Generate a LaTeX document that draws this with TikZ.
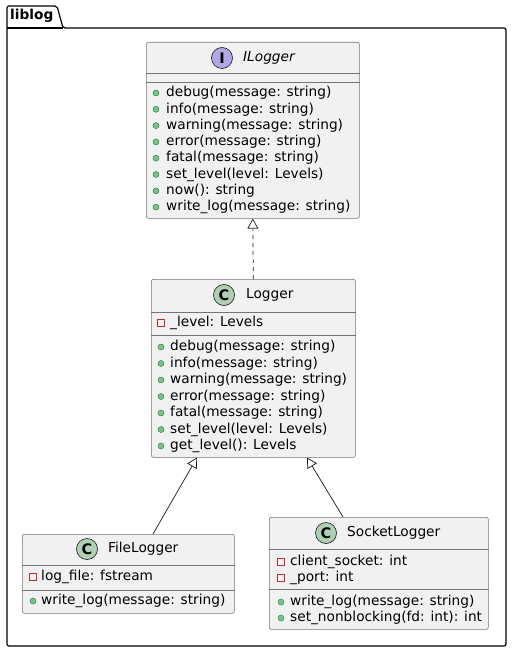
\documentclass[tikz,border=0pt]{standalone}
\usepackage{fontspec}
\setmainfont{DejaVu Sans}
\usetikzlibrary{positioning,arrows.meta}
\definecolor{boxfill}{HTML}{F1F1F1}
\definecolor{boxline}{HTML}{181818}
\definecolor{iconC}{HTML}{ADD1B2}
\definecolor{iconI}{HTML}{B4A7E5}
\definecolor{pubfill}{HTML}{84BE84}
\definecolor{publine}{HTML}{038048}
\definecolor{privline}{HTML}{C82930}
\tikzset{
  >={Triangle[open,length=10pt,width=11pt]},
  classbox/.style={draw=boxline!60, fill=boxfill, rounded corners=2pt, line width=0.6pt,
    anchor=north west, inner sep=0pt},
  sepline/.style={draw=boxline!60, line width=0.6pt},
  icon/.style={circle, draw=boxline, line width=0.6pt, minimum size=21pt, inner sep=0pt,
    font=\bfseries\fontsize{14.5}{14.5}\selectfont},
  classname/.style={anchor=west, inner sep=0pt, font=\fontsize{13.7}{15}\selectfont},
  member/.style={anchor=west, inner sep=0pt, font=\fontsize{13.7}{15}\selectfont},
  pub/.style={circle, draw=publine, fill=pubfill, minimum size=6pt, inner sep=0pt},
  priv/.style={rectangle, draw=privline, line width=0.6pt, minimum size=7pt, inner sep=0pt},
  assoc/.style={draw=boxline, line width=0.7pt},
}
\begin{document}
\begin{tikzpicture}[x=1pt, y=-1pt]
  \useasboundingbox (0,0) rectangle (511,652);

  % package liblog
  \draw[line width=1.2pt, rounded corners=2pt]
    (7,646) -- (7,6) -- (57,6) -- (63,28) -- (506,28) -- (506,646) -- cycle;
  \draw[line width=1.2pt] (7,28) -- (63,28);
  \node[anchor=west, inner sep=0pt, font=\bfseries\fontsize{13.7}{15}\selectfont] (pkg) at (10,16) {liblog};

  % ILogger
  \node[classbox, minimum width=213pt, minimum height=176pt] (ilogger) at (146,42) {};
  \draw[sepline] (ilogger.west |- 0,73) -- (ilogger.east |- 0,73);
  \draw[sepline] (ilogger.west |- 0,82) -- (ilogger.east |- 0,82);
  \node[icon, fill=iconI] (ilogger-ic) at (222,58) {I};
  \node[classname, font=\itshape\fontsize{13.7}{15}\selectfont] (ilogger-nm) at (243,58) {ILogger};
  \foreach \txt [count=\i from 0] in {debug(message: string), info(message: string),
      warning(message: string), error(message: string), fatal(message: string),
      set\_level(level: Levels), now(): string, write\_log(message: string)} {
    \node[pub] (ilogger-d\i) at (156,{93+16.3*\i}) {};
    \node[member] (ilogger-m\i) at (166,{93+16.3*\i}) {\txt};
  }

  % Logger
  \node[classbox, minimum width=204pt, minimum height=178pt] (logger) at (151,279) {};
  \draw[sepline] (logger.west |- 0,312) -- (logger.east |- 0,312);
  \draw[sepline] (logger.west |- 0,335) -- (logger.east |- 0,335);
  \node[icon, fill=iconC] (logger-ic) at (224,295) {C};
  \node[classname] (logger-nm) at (246,295) {Logger};
  \node[priv] (logger-f0d) at (161,323) {};
  \node[member] (logger-f0) at (170,323) {\_level: Levels};
  \foreach \txt [count=\i from 0] in {debug(message: string), info(message: string),
      warning(message: string), error(message: string), fatal(message: string),
      set\_level(level: Levels), get\_level(): Levels} {
    \node[pub] (logger-d\i) at (161,{347+16.5*\i}) {};
    \node[member] (logger-m\i) at (170,{347+16.5*\i}) {\txt};
  }

  % FileLogger
  \node[classbox, minimum width=212pt, minimum height=79pt] (filelog) at (22,534) {};
  \draw[sepline] (filelog.west |- 0,565) -- (filelog.east |- 0,565);
  \draw[sepline] (filelog.west |- 0,590) -- (filelog.east |- 0,590);
  \node[icon, fill=iconC] (filelog-ic) at (87,549) {C};
  \node[classname] (filelog-nm) at (108,549) {FileLogger};
  \node[priv] (filelog-f0d) at (33,577) {};
  \node[member] (filelog-f0) at (41,577) {log\_file: fstream};
  \node[pub] (filelog-d0) at (33,601) {};
  \node[member] (filelog-m0) at (41,601) {write\_log(message: string)};

  % SocketLogger
  \node[classbox, minimum width=219pt, minimum height=112pt] (socklog) at (269,517) {};
  \draw[sepline] (socklog.west |- 0,549) -- (socklog.east |- 0,549);
  \draw[sepline] (socklog.west |- 0,589) -- (socklog.east |- 0,589);
  \node[icon, fill=iconC] (socklog-ic) at (326,533) {C};
  \node[classname] (socklog-nm) at (347,533) {SocketLogger};
  \node[priv] (socklog-f0d) at (281,562) {};
  \node[member] (socklog-f0) at (290,562) {client\_socket: int};
  \node[priv] (socklog-f1d) at (281,578) {};
  \node[member] (socklog-f1) at (290,578) {\_port: int};
  \node[pub] (socklog-d0) at (281,602) {};
  \node[member] (socklog-m0) at (290,602) {write\_log(message: string)};
  \node[pub] (socklog-d1) at (281,618) {};
  \node[member] (socklog-m1) at (290,618) {set\_nonblocking(fd: int): int};

  % relations
  \draw[assoc, dashed, dash pattern=on 4pt off 4pt, ->] (logger.north) -- (ilogger.south);
  \draw[assoc, ->] (filelog.north -| 153,0) -- (logger.south -| 197,0);
  \draw[assoc, ->] (socklog.north -| 343,0) -- (logger.south -| 307,0);
\end{tikzpicture}
\end{document}
